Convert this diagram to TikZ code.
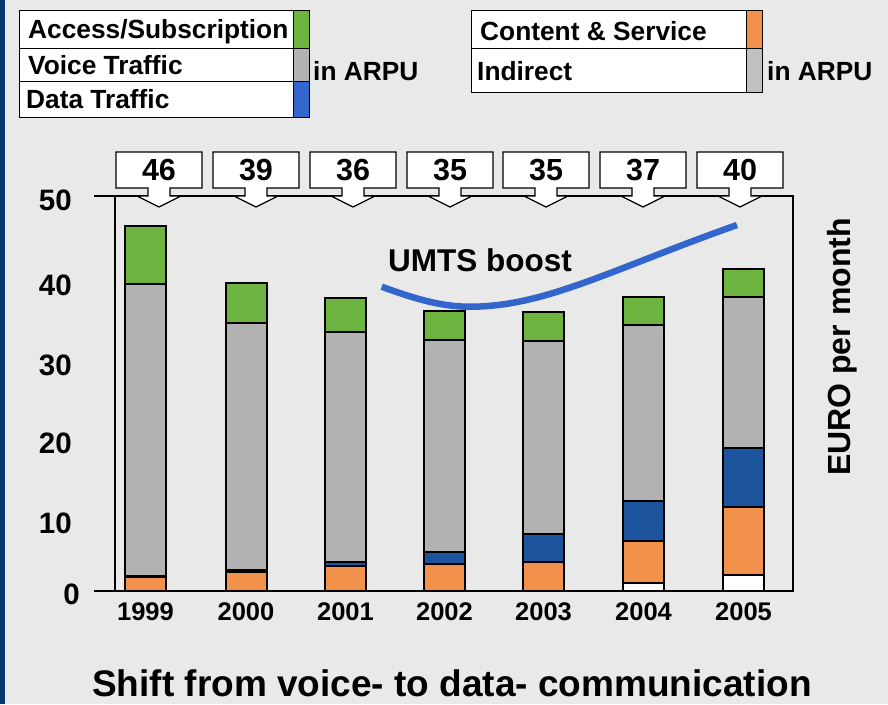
\documentclass[tikz,border=0pt]{standalone}
\usepackage{fontspec}
\setmainfont{Liberation Sans}
\definecolor{bgcol}{HTML}{E9E9E9}
\definecolor{navy}{HTML}{003A6E}
\definecolor{sgreen}{HTML}{6DB33F}
\definecolor{sgray}{HTML}{B2B2B2}
\definecolor{lblue}{HTML}{3366CC}
\definecolor{sblue}{HTML}{1C559D}
\definecolor{sorange}{HTML}{F2914B}
\definecolor{igray}{HTML}{C0C0C0}
\begin{document}
\begin{tikzpicture}[x=1pt,y=-1pt,
  txt/.style={inner sep=0pt, anchor=base, text=black},
  legbox/.style={draw=black, line width=1.2pt, fill=white, anchor=north west, inner sep=0pt},
  legtext/.style={txt, anchor=base west, font=\fontsize{26.3}{29}\selectfont\bfseries},
  swatch/.style={draw=black, line width=1.2pt, anchor=north west, inner sep=0pt, minimum width=16pt},
  ticklbl/.style={txt, anchor=base east, font=\fontsize{29.5}{32}\selectfont\bfseries},
  yearlbl/.style={txt, font=\fontsize{25.5}{28}\selectfont\bfseries},
  vallbl/.style={txt, font=\fontsize{30.5}{33}\selectfont\bfseries},
  seg/.style={draw=black, line width=1.8pt},
  framel/.style={draw=black, line width=1.2pt},
  calloutbox/.style={draw=black, line width=1.2pt, fill=white, line join=miter},
  umtsline/.style={draw=lblue, line width=6.5pt}
]
\useasboundingbox (0,0) rectangle (888,704);
\fill[bgcol] (0,0) rectangle (888,704);
\fill[navy] (0,0) rectangle (5,704);

% legend: ARPU components
\node[legbox, minimum width=274pt, minimum height=38pt] (racc) at (19,10) {};
\node[legbox, minimum width=274pt, minimum height=33pt] (rvoice) at (19,48) {};
\node[legbox, minimum width=274pt, minimum height=36pt] (rdata) at (19,81) {};
\node[swatch, fill=sgreen, minimum height=38pt] (sacc) at (293,10) {};
\node[swatch, fill=sgray, minimum height=33pt] (svoice) at (293,48) {};
\node[swatch, fill=lblue, minimum height=36pt] (sdata) at (293,81) {};
\node[legtext] (tacc) at (28,38.3) {Access/Subscription};
\node[legtext] (tvoice) at (28,74) {Voice Traffic};
\node[legtext] (tdata) at (26,108) {Data Traffic};
\node[legtext] (arpua) at (313,80) {in ARPU};

% legend: content and indirect
\node[legbox, minimum width=275pt, minimum height=38pt] (rcont) at (471,10) {};
\node[legbox, minimum width=275pt, minimum height=44pt] (rind) at (471,48) {};
\node[swatch, fill=sorange, minimum height=38pt] (scont) at (746,10) {};
\node[swatch, fill=igray, minimum height=44pt] (sind) at (746,48) {};
\node[legtext] (tcont) at (480,40) {Content \& Service};
\node[legtext] (tind) at (477,80) {Indirect};
\node[legtext] (arpub) at (767,80) {in ARPU};

% chart frame
\draw[framel] (94,196) -- (793,196) -- (793,591);
\draw[framel] (115,196) -- (115,591);
\draw[black, line width=2.2pt] (94,591) -- (794,591);

% value axis
\node[ticklbl] (t50) at (72,210.7) {50};
\node[ticklbl] (t40) at (72,295) {40};
\node[ticklbl] (t30) at (72,375) {30};
\node[ticklbl] (t20) at (72,453.3) {20};
\node[ticklbl] (t10) at (72,533.3) {10};
\node[ticklbl] (t0) at (80,604) {0};

% stacked bars: top, access/voice, voice/data, data/content, content/indirect
\foreach \xl/\a/\b/\c/\d/\e in {125/226/284/576/577/591, 226/283/323/570/572/591,
    325/298/332/562/566/591, 424/311/340/552/564/591, 523/312/341/534/562/591,
    623/297/325/501/541/583, 723/269/297/448/507/575} {
  \draw[seg, fill=sgreen] (\xl,\a) rectangle (\xl+41,\b);
  \draw[seg, fill=sgray] (\xl,\b) rectangle (\xl+41,\c);
  \draw[seg, fill=sblue] (\xl,\c) rectangle (\xl+41,\d);
  \draw[seg, fill=sorange] (\xl,\d) rectangle (\xl+41,\e);
  \draw[seg, fill=white] (\xl,\e) rectangle (\xl+41,591);
}

% year labels
\foreach \xc/\yr in {145.5/1999, 246/2000, 345.5/2001, 444.5/2002, 543.5/2003, 643.5/2004, 743.5/2005}
  \node[yearlbl] (y\yr) at (\xc,620.5) {\yr};

% ARPU callouts
\foreach \c/\v [count=\i] in {159/46, 256/39, 353/36, 450/35, 546/35, 643/37, 740/40} {
  \draw[calloutbox] (\c-43,152) -- (\c+43,152) -- (\c+43,188) -- (\c+11,188) -- (\c+11,196)
    -- (\c+22,196) -- (\c,207) -- (\c-22,196) -- (\c-11,196) -- (\c-11,188) -- (\c-43,188) -- cycle;
  \node[vallbl] (v\i) at (\c,180) {\v};
}

% UMTS boost curve
\draw[umtsline] (381.7,286.7) .. controls (410,297) and (440,307) .. (470,306.7)
  .. controls (545,306.7) and (610,270) .. (737,225);
\node[txt, anchor=base west, font=\fontsize{31.5}{34}\selectfont\bfseries] (umts) at (388,271) {UMTS boost};

% unit label
\node[inner sep=0pt, rotate=90, font=\fontsize{32}{35}\selectfont\bfseries] (euro) at (842,347) {EURO per month};

% caption
\node[txt, font=\fontsize{37}{41}\selectfont\bfseries] (title) at (452,696.5) {Shift from voice- to data- communication};
\end{tikzpicture}
\end{document}
